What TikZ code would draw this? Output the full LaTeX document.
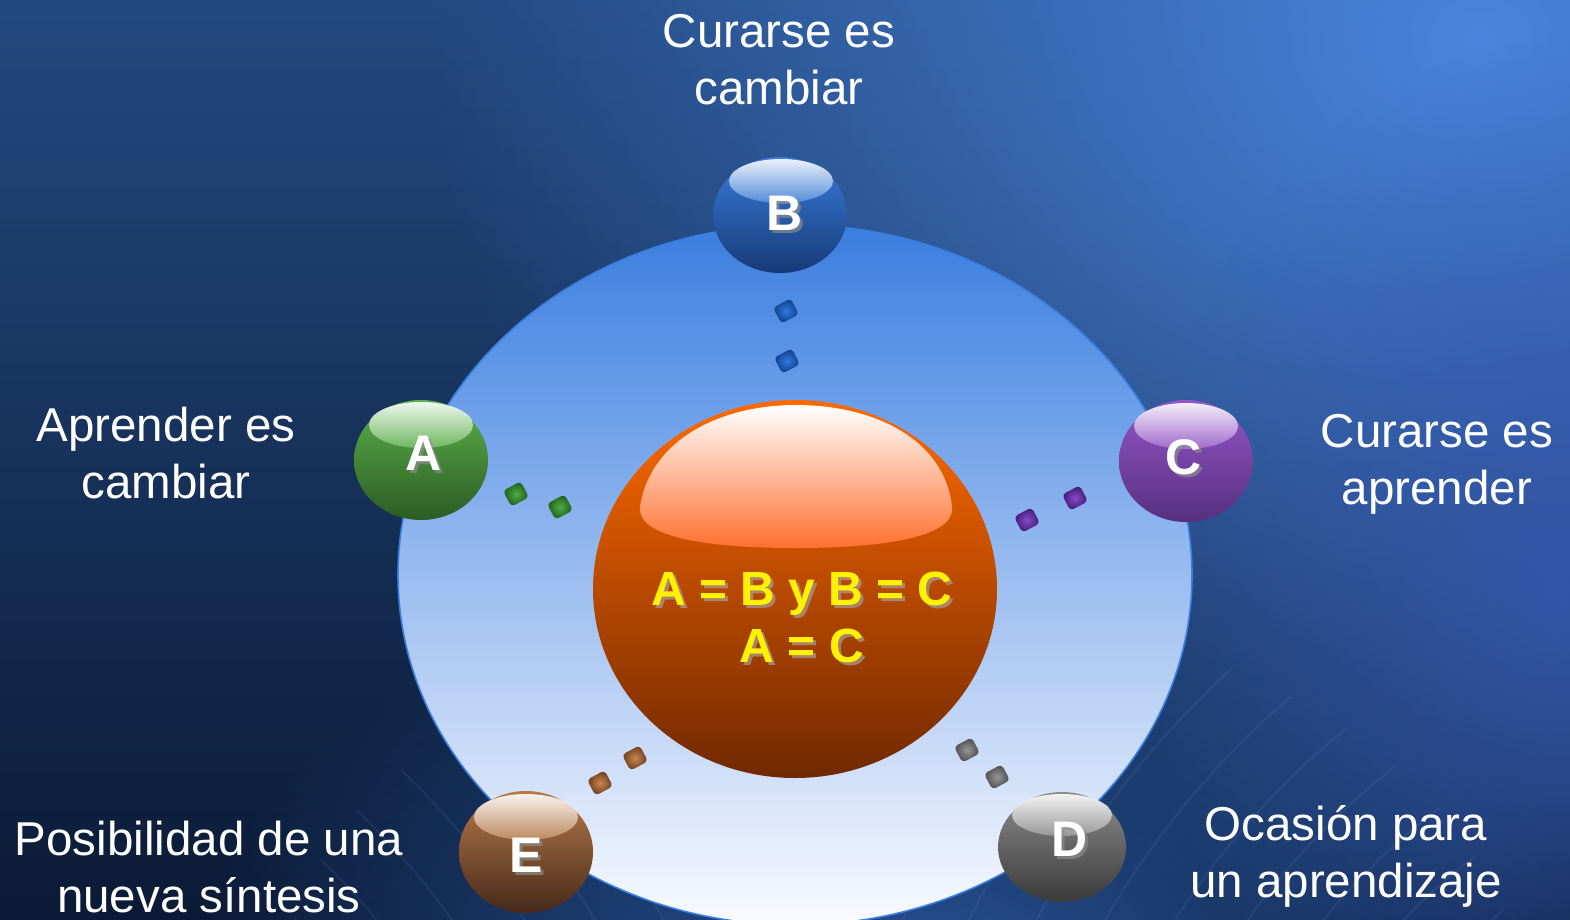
\documentclass[tikz,border=0pt]{standalone}
\usepackage{fontspec}
\setmainfont{Liberation Sans}
\usetikzlibrary{shapes.geometric,fadings,calc}

% background
\definecolor{bgtop}{HTML}{22497F}
\definecolor{bgbot}{HTML}{0B1A35}
\definecolor{glow}{HTML}{4A84DC}
\definecolor{glowlow}{HTML}{3558AE}
\definecolor{globe}{HTML}{2C5CA6}
\definecolor{gridc}{HTML}{8FB4F0}
% disc
\definecolor{disctop}{HTML}{3A7EE0}
\definecolor{discmid}{HTML}{B3C4EE}
\definecolor{discbot}{HTML}{FAFBFF}
\definecolor{discrim}{HTML}{3A80E2}
% central sphere
\definecolor{orgtop}{HTML}{FF6A00}
\definecolor{orgmid}{HTML}{C24C00}
\definecolor{orgbot}{HTML}{702800}
\definecolor{orghi}{HTML}{FF7030}
% small balls (top, bottom)
\definecolor{blueT}{HTML}{3A7CDA}\definecolor{blueB}{HTML}{163A78}
\definecolor{greenT}{HTML}{5AB04A}\definecolor{greenB}{HTML}{2C5C24}
\definecolor{purpT}{HTML}{9455C8}\definecolor{purpB}{HTML}{56307F}
\definecolor{grayT}{HTML}{8C8C8C}\definecolor{grayB}{HTML}{3A3A3A}
\definecolor{brownT}{HTML}{B87A48}\definecolor{brownB}{HTML}{45291A}
% gems (inner, outer)
\definecolor{gemBi}{HTML}{2F7AE8}\definecolor{gemBo}{HTML}{123D80}
\definecolor{gemAi}{HTML}{4EAE44}\definecolor{gemAo}{HTML}{1D5A1A}
\definecolor{gemCi}{HTML}{8A4AD0}\definecolor{gemCo}{HTML}{3C1A6A}
\definecolor{gemDi}{HTML}{969696}\definecolor{gemDo}{HTML}{4A4A4A}
\definecolor{gemEi}{HTML}{C8884E}\definecolor{gemEo}{HTML}{6A3A1A}

\tikzfading[name=glowfade, inner color=transparent!0, outer color=transparent!100]

\tikzset{
  ball/.style={ellipse, inner sep=0pt, minimum width=134pt, minimum height=120pt},
  gloss/.style={top color=white, fill opacity=0.9},
  gem/.style={rectangle, rounded corners=4pt, minimum width=20pt, minimum height=18pt,
               inner sep=0pt, rotate=28},
  letter/.style={anchor=base, text=white, font=\fontsize{50}{60}\selectfont\bfseries},
  lshadow/.style={anchor=base, text=black!45, opacity=0.7, font=\fontsize{50}{60}\selectfont\bfseries},
  eq/.style={anchor=base, text=yellow, font=\fontsize{48}{57}\selectfont\bfseries},
  eqshadow/.style={anchor=base, text=black!35, opacity=0.65, font=\fontsize{48}{57}\selectfont\bfseries},
  label/.style={anchor=base, text=white, font=\fontsize{47.5}{57}\selectfont},
}

\begin{document}
\begin{tikzpicture}[x=1pt,y=-1pt]
\useasboundingbox (0,0) rectangle (1570,919);

% sky-like backdrop
\shade[top color=bgtop, bottom color=bgbot] (0,0) rectangle (1570,919);
\fill[glow, path fading=glowfade] (1480,40) ellipse [x radius=1050pt, y radius=900pt];
\fill[glowlow, path fading=glowfade, fill opacity=0.8] (1560,600) ellipse [x radius=420pt, y radius=560pt];
\fill[globe, path fading=glowfade, fill opacity=0.9] (900,1000) ellipse [x radius=720pt, y radius=430pt];

% faint globe grid
\begin{scope}
  \clip (900,1000) ellipse [x radius=620pt, y radius=390pt];
  \begin{scope}[draw=gridc, draw opacity=0.09, line width=2pt]
    \foreach \r in {560,620,...,1060} {
      \draw (-150,1350) circle [radius=\r pt];
      \draw (1850,1350) circle [radius=\r pt];
    }
  \end{scope}
\end{scope}

% large disc
\shade[top color=disctop, middle color=discmid, bottom color=discbot]
  (795,575) ellipse [x radius=397pt, y radius=350pt];
\draw[discrim, line width=1.6pt] (795,575) ellipse [x radius=397pt, y radius=350pt];

% gems between the balls and the core
\node[gem, inner color=gemBi, outer color=gemBo] (gB1) at (786,311) {};
\node[gem, inner color=gemBi, outer color=gemBo] (gB2) at (787,361) {};
\node[gem, inner color=gemAi, outer color=gemAo] (gA1) at (516,494) {};
\node[gem, inner color=gemAi, outer color=gemAo] (gA2) at (560,507) {};
\node[gem, inner color=gemCi, outer color=gemCo] (gC1) at (1075,498) {};
\node[gem, inner color=gemCi, outer color=gemCo] (gC2) at (1027,520) {};
\node[gem, inner color=gemDi, outer color=gemDo] (gD1) at (967,750) {};
\node[gem, inner color=gemDi, outer color=gemDo] (gD2) at (997,777) {};
\node[gem, inner color=gemEi, outer color=gemEo] (gE1) at (635,758) {};
\node[gem, inner color=gemEi, outer color=gemEo] (gE2) at (600,783) {};

% central sphere
\node[ellipse, inner sep=0pt, minimum width=404pt, minimum height=378pt,
      top color=orgtop, middle color=orgmid, bottom color=orgbot] (core) at (795,589) {};
\shade[top color=white, bottom color=orghi]
  (640,507) .. controls (650,440) and (720,405) .. (796,405)
            .. controls (875,405) and (945,440) .. (952,507)
            .. controls (955,540) and (870,548) .. (796,548)
            .. controls (720,548) and (637,540) .. (640,507) -- cycle;
\node[eqshadow] (eq1s) at (805,608) {A = B y B = C};
\node[eq]       (eq1)  at (802,605) {A = B y B = C};
\node[eqshadow] (eq2s) at (805,665) {A = C};
\node[eq]       (eq2)  at (802,662) {A = C};

% small glossy balls
\node[ball, minimum height=116pt, top color=blueT, bottom color=blueB] (B) at (780,215) {};
\shade[gloss, bottom color=blueT!85!white] (781,181) ellipse [x radius=52pt, y radius=22pt];
\node[ball, top color=greenT, bottom color=greenB] (A) at (421,460) {};
\shade[gloss, bottom color=greenT!85!white] (421,425) ellipse [x radius=52pt, y radius=23pt];
\node[ball, minimum height=122pt, top color=purpT, bottom color=purpB] (C) at (1186,461) {};
\shade[gloss, bottom color=purpT!85!white] (1186,426) ellipse [x radius=52pt, y radius=23pt];
\node[ball, minimum width=128pt, minimum height=110pt, top color=grayT, bottom color=grayB] (D) at (1062,847) {};
\shade[gloss, bottom color=grayT!85!white] (1062,815) ellipse [x radius=50pt, y radius=21pt];
\node[ball, minimum height=122pt, top color=brownT, bottom color=brownB] (E) at (526,852) {};
\shade[gloss, bottom color=brownT!85!white] (526,817) ellipse [x radius=52pt, y radius=23pt];

% ball letters
\node[lshadow] (lBs) at (788,233) {B};  \node[letter] (lB) at (785,230) {B};
\node[lshadow] (lAs) at (427,473) {A};  \node[letter] (lA) at (424,470) {A};
\node[lshadow] (lCs) at (1187,477) {C}; \node[letter] (lC) at (1184,474) {C};
\node[lshadow] (lDs) at (1073,859) {D}; \node[letter] (lD) at (1070,856) {D};
\node[lshadow] (lEs) at (529,875) {E};  \node[letter] (lE) at (526,872) {E};

% captions
\node[label] (tB1) at (779,47)   {Curarse es};
\node[label] (tB2) at (779,104)  {cambiar};
\node[label] (tA1) at (166,441)  {Aprender es};
\node[label] (tA2) at (166,498)  {cambiar};
\node[label] (tC1) at (1437,447) {Curarse es};
\node[label] (tC2) at (1437,504) {aprender};
\node[label] (tD1) at (1346,840) {Ocasión para};
\node[label] (tD2) at (1346,897) {un aprendizaje};
\node[label] (tE1) at (209,855)  {Posibilidad de una};
\node[label] (tE2) at (209,912)  {nueva síntesis};
\end{tikzpicture}
\end{document}
